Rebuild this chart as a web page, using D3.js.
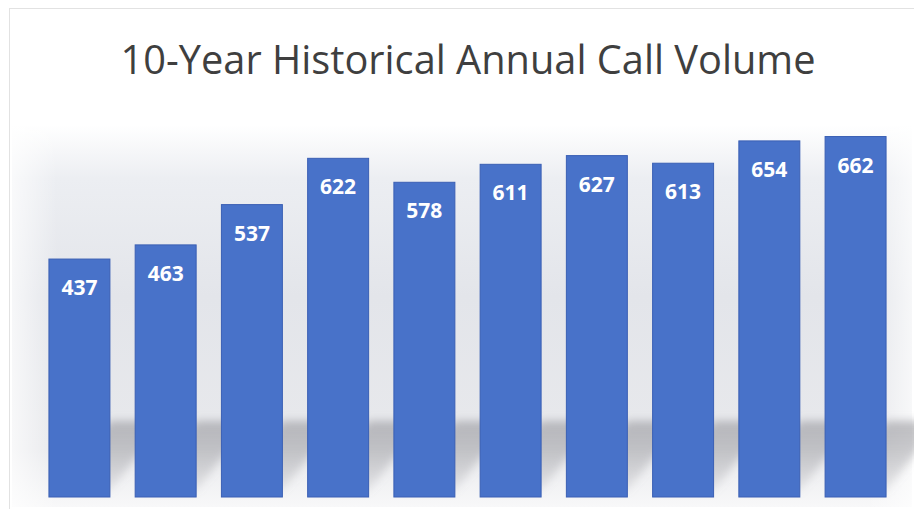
<!DOCTYPE html>
<html>
<head>
<meta charset="utf-8">
<script src="https://cdn.jsdelivr.net/npm/d3@7"></script>
<style>
  html, body { margin: 0; padding: 0; background: #fff; }
  svg { display: block; }
</style>
</head>
<body>
<script>
var categories = ["1", "2", "3", "4", "5", "6", "7", "8", "9", "10"];
var calls = [437, 463, 537, 622, 578, 611, 627, 613, 654, 662];
var chartTitle = "10-Year Historical Annual Call Volume";

var width = 914;
var height = 509;
var baseline = 497;

var svg = d3.select("body").append("svg")
    .attr("width", width)
    .attr("height", height);

var defs = svg.append("defs");

var bg = defs.append("linearGradient")
    .attr("id", "bgGrad")
    .attr("x1", 0).attr("y1", 0).attr("x2", 0).attr("y2", 1);
bg.append("stop").attr("offset", "0%").attr("stop-color", "#ffffff");
bg.append("stop").attr("offset", "14%").attr("stop-color", "#eceef2");
bg.append("stop").attr("offset", "45%").attr("stop-color", "#e3e5ea");
bg.append("stop").attr("offset", "85%").attr("stop-color", "#e8e9ec");
bg.append("stop").attr("offset", "100%").attr("stop-color", "#f8f8f9");

var side = defs.append("linearGradient")
    .attr("id", "sideGrad")
    .attr("x1", 0).attr("y1", 0).attr("x2", 1).attr("y2", 0);
side.append("stop").attr("offset", "0%").attr("stop-color", "#fff").attr("stop-opacity", 0.7);
side.append("stop").attr("offset", "5%").attr("stop-color", "#fff").attr("stop-opacity", 0);
side.append("stop").attr("offset", "95%").attr("stop-color", "#fff").attr("stop-opacity", 0);
side.append("stop").attr("offset", "100%").attr("stop-color", "#fff").attr("stop-opacity", 0.7);

var sh = defs.append("linearGradient")
    .attr("id", "shadowGrad")
    .attr("gradientUnits", "userSpaceOnUse")
    .attr("x1", 0).attr("y1", baseline - 78).attr("x2", 0).attr("y2", baseline);
sh.append("stop").attr("offset", "0%").attr("stop-color", "#8c8c92").attr("stop-opacity", 0.55);
sh.append("stop").attr("offset", "35%").attr("stop-color", "#8c8c92").attr("stop-opacity", 0.45);
sh.append("stop").attr("offset", "100%").attr("stop-color", "#8c8c92").attr("stop-opacity", 0.1);

defs.append("filter")
    .attr("id", "blur")
    .attr("x", "-50%").attr("y", "-50%").attr("width", "200%").attr("height", "200%")
    .append("feGaussianBlur")
    .attr("stdDeviation", 4);

// frame
svg.append("rect")
    .attr("x", 9.5).attr("y", 8.5)
    .attr("width", width).attr("height", height)
    .attr("fill", "#fff")
    .attr("stroke", "#e2e2e2");

// plot background
svg.append("rect")
    .attr("x", 12).attr("y", 125)
    .attr("width", 900).attr("height", 382)
    .attr("fill", "url(#bgGrad)");
svg.append("rect")
    .attr("x", 12).attr("y", 125)
    .attr("width", 900).attr("height", 382)
    .attr("fill", "url(#sideGrad)");

var x = d3.scaleBand()
    .domain(categories)
    .range([36, 899])
    .paddingInner(0.293)
    .paddingOuter(0.15);

var y = d3.scaleLinear()
    .domain([0, 700])
    .range([baseline, baseline - 700 * 0.5445]);

// floor shadows, skewed up and to the right
svg.append("g")
    .attr("filter", "url(#blur)")
    .selectAll("path")
    .data(calls)
    .enter()
    .append("path")
    .attr("d", function(d, i) {
        var x0 = x(categories[i]) + 6;
        var w = x.bandwidth() - 6;
        return "M" + x0 + "," + (baseline - 6) +
            "L" + (x0 + w) + "," + (baseline - 6) +
            "L" + (x0 + w + 55) + "," + (baseline - 76) +
            "L" + (x0 + 55) + "," + (baseline - 76) + "Z";
    })
    .attr("fill", "url(#shadowGrad)");

svg.selectAll("rect.bar")
    .data(calls)
    .enter()
    .append("rect")
    .attr("class", "bar")
    .attr("x", function(d, i) { return x(categories[i]); })
    .attr("y", function(d) { return y(d); })
    .attr("width", x.bandwidth())
    .attr("height", function(d) { return baseline - y(d); })
    .attr("fill", "#4872c9")
    .attr("stroke", "#3a5fb4")
    .attr("stroke-width", 1);

svg.selectAll("text.label")
    .data(calls)
    .enter()
    .append("text")
    .attr("class", "label")
    .attr("x", function(d, i) { return x(categories[i]) + x.bandwidth() / 2; })
    .attr("y", function(d) { return y(d) + 36; })
    .attr("text-anchor", "middle")
    .attr("font-family", "Open Sans, sans-serif")
    .attr("font-weight", "bold")
    .attr("font-size", "21px")
    .attr("fill", "#ffffff")
    .text(function(d) { return d; });

var title = svg.append("text")
    .attr("x", 468)
    .attr("y", 74)
    .attr("text-anchor", "middle")
    .attr("font-family", "Open Sans, sans-serif")
    .attr("font-size", "40px")
    .attr("fill", "#3f3f3f")
    .text(chartTitle);

// fit title to its width in the picture
var tw = title.node().getComputedTextLength();
title.attr("font-size", (40 * 695 / tw) + "px");
</script>
</body>
</html>
